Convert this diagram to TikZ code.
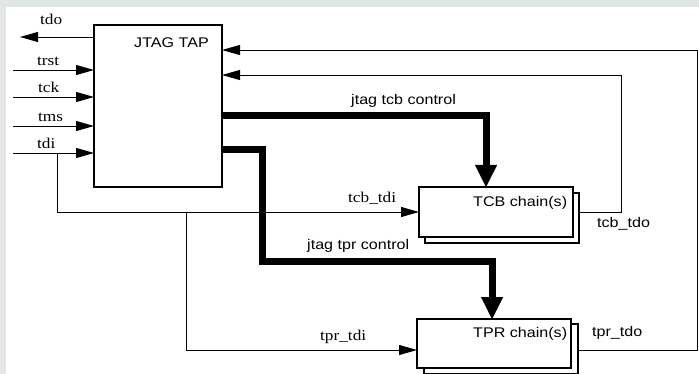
\documentclass[tikz,border=0pt]{standalone}
\usepackage{fontspec}
\setmainfont{Liberation Serif}
\setsansfont{Liberation Sans}
\usetikzlibrary{arrows.meta}
\definecolor{bgrey}{RGB}{227,230,230}
\newcommand{\hs}[1]{\scalebox{1.15}[1]{#1}}
\begin{document}
\begin{tikzpicture}[x=1pt,y=-1pt,
  wire/.style={line width=0.9pt},
  arr/.style={wire,-{Triangle[length=18pt,width=10pt]}},
  bus/.style={line width=7pt,-{Triangle[length=22pt,width=22pt,line width=0.01pt]}},
  box/.style={draw, line width=1.5pt, fill=white, outer sep=0pt, inner sep=0pt, anchor=north west},
  ser/.style={font=\fontsize{15}{15}\selectfont, inner sep=0pt, anchor=base west},
  san/.style={font=\sffamily\fontsize{14}{14}\selectfont, inner sep=0pt, anchor=base west},
]
\useasboundingbox (0,0) rectangle (699,374);
\clip (0,0) rectangle (699,374);
\fill[bgrey] (0,0) rectangle (699,374);
\fill[white] (6,7) rectangle (699,374);

% boxes
\node[box, line width=2pt, minimum width=128pt, minimum height=162pt] (jtag) at (94,25) {};
\node[box, minimum width=154pt, minimum height=50pt] (tcbS) at (425,193) {};
\node[box, minimum width=154pt, minimum height=50pt] (tcb) at (419,187) {};
\node[box, minimum width=154pt, minimum height=50pt] (tprS) at (424,324) {};
\node[box, minimum width=154pt, minimum height=49pt] (tpr) at (417,319) {};

% labels
\node[san] (ljtag) at (134,48) {\hs{JTAG TAP}};
\node[san] (ltcb) at (473,207) {\hs{TCB chain(s)}};
\node[san] (ltpr) at (473,337) {\hs{TPR chain(s)}};
\node[san] (ltcbctl) at (351,105) {\hs{jtag tcb control}};
\node[san] (ltprctl) at (307,250) {\hs{jtag tpr control}};
\node[san] (ltcbtdo) at (597,228) {\hs{tcb\_tdo}};
\node[san] (ltprtdo) at (592,336) {\hs{tpr\_tdo}};
\node[ser] (ltdo) at (40,25) {\hs{tdo}};
\node[ser] (ltrst) at (37,66) {\hs{trst}};
\node[ser] (ltck) at (38,93) {\hs{tck}};
\node[ser] (ltms) at (38,122) {\hs{tms}};
\node[ser] (ltdi) at (37,149) {\hs{tdi}};
\node[ser] (ltcbtdi) at (348,203) {\hs{tcb\_tdi}};
\node[ser] (ltprtdi) at (320,340) {\hs{tpr\_tdi}};

% coordinates
\coordinate (tdoE) at (20,37);
\coordinate (trstS) at (13,70);
\coordinate (tckS) at (13,97);
\coordinate (tmsS) at (13,126);
\coordinate (tdiS) at (13,153);
\coordinate (tdiB) at (57,153);
\coordinate (j1) at (57,212);
\coordinate (j2) at (186,212);
\coordinate (j3) at (186,350);
\coordinate (f1) at (697,50);
\coordinate (f2) at (697,350);
\coordinate (g1) at (621,75);
\coordinate (g2) at (621,212);
\coordinate (b1) at (486,116);
\coordinate (c1) at (262,150);
\coordinate (c2) at (262,262);
\coordinate (c3) at (492,262);

% thin connectors
\draw[arr] (jtag.west |- tdoE) -- (tdoE);
\draw[arr] (trstS) -- (trstS -| jtag.west);
\draw[arr] (tckS) -- (tckS -| jtag.west);
\draw[arr] (tmsS) -- (tmsS -| jtag.west);
\draw[arr] (tdiS) -- (tdiS -| jtag.west);
\draw[arr] (tdiB) -- (j1) -- (j1 -| tcb.west);
\draw[arr] (j2) -- (j3) -- (j3 -| tpr.west);
\draw[arr] (f2 -| tprS.east) -- (f2) -- (f1) -- (f1 -| jtag.east);
\draw[arr] (g2 -| tcbS.east) -- (g2) -- (g1) -- (g1 -| jtag.east);

% buses
\draw[bus] (b1 -| jtag.east) -- (b1) -- (b1 |- tcb.north);
\draw[bus] (c1 -| jtag.east) -- (c1) -- (c2) -- (c3) -- (c3 |- tpr.north);
\end{tikzpicture}
\end{document}
